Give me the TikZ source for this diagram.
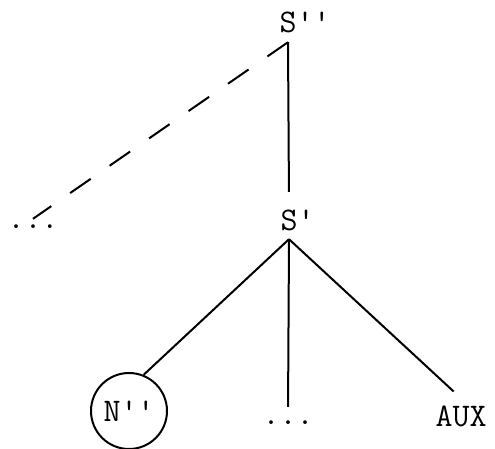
\documentclass[tikz,border=0pt]{standalone}
\usepackage{fontspec}
\usepackage{tikz}
\newcommand{\tk}{\textquotesingle}

\begin{document}
\begin{tikzpicture}[
  x=1pt,y=-1pt,
  font=\ttfamily\fontsize{33}{36}\selectfont\addfontfeatures{LetterSpace=8},
  lbl/.style={inner sep=9pt,text height=19pt,text depth=0pt},
  dots/.style={inner sep=5pt,text height=4pt,text depth=0pt},
  ring/.style={draw,circle,line width=2pt,minimum size=76pt,inner sep=0pt},
  edge/.style={line width=2pt},
  dsh/.style={line width=2pt,dash pattern=on 25pt off 23pt}
]
\useasboundingbox (0,0) rectangle (495,449);
\node[lbl] (spp) at (288,23.5) {S\rlap{\tk\tk}};
\node[lbl] (sp) at (289,220.5) {S\rlap{\tk}};
\node[dots] (ldots) at (33,226) {...};
\node[ring] (np) at (129,411) {N\tk\tk};
\node[dots] (mdots) at (288,422) {...};
\node[lbl] (aux) at (461,417) {AUX};
\draw[edge,shorten >=10pt] (spp.south) -- (sp.north);
\draw[dsh] (spp.south) -- (ldots.north);
\draw[edge] (sp.south) -- (np.68);
\draw[edge,shorten >=8pt] (sp.south) -- (mdots.north);
\draw[edge,shorten >=10pt] (sp.south) -- (aux.north);
\end{tikzpicture}
\end{document}
